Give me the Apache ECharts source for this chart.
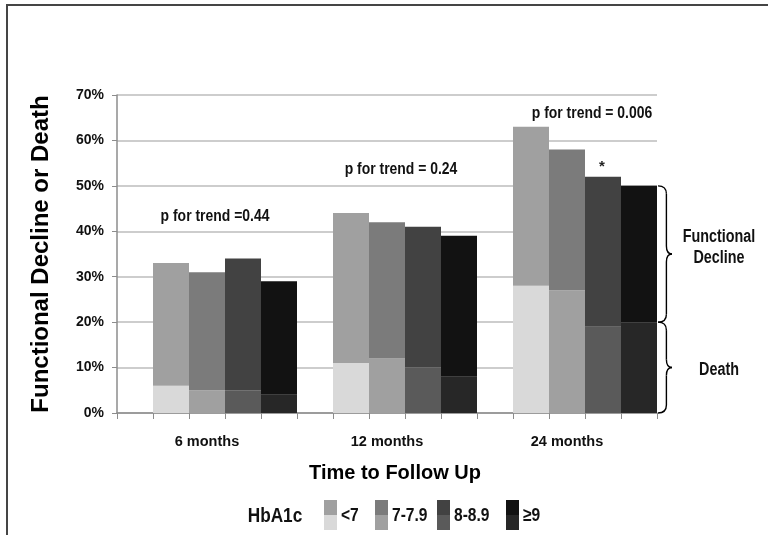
<!DOCTYPE html>
<html><head><meta charset="utf-8">
<script src="https://cdn.jsdelivr.net/npm/echarts@6/dist/echarts.min.js"></script>
<style>html,body{margin:0;padding:0;background:#fff}#c{width:768px;height:535px}</style>
</head><body><div id="c"></div>
<script>
// ---- data ----
const timepoints = ['6 months', '12 months', '24 months'];
const hba1cGroups = ['<7', '7-7.9', '8-8.9', '≥9'];
const deathValues = [
  [6, 5, 5, 4],
  [11, 12, 10, 8],
  [28, 27, 19, 20]
];
const totalValues = [
  [33, 31, 34, 29],
  [44, 42, 41, 39],
  [63, 58, 52, 50]
];
const pTrendLabels = ['p for trend =0.44', 'p for trend = 0.24', 'p for trend = 0.006'];
const yTickValues = [0, 10, 20, 30, 40, 50, 60, 70];

// ---- styles ----
const deathColors = ['#d9d9d9', '#a0a0a0', '#5a5a5a', '#272727'];
const declineColors = ['#a0a0a0', '#7b7b7b', '#424242', '#121212'];
const SANS = '"Liberation Sans", Arial, sans-serif';
const NARROW_SCALE = 0.82;

// build slot-based category axis: gap + 4 bars per timepoint
const slotNames = [], slotLabels = [], deathData = [], declineData = [];
timepoints.forEach((tp, g) => {
  slotNames.push('gap' + g); slotLabels.push(''); deathData.push('-'); declineData.push('-');
  hba1cGroups.forEach((h, i) => {
    slotNames.push(tp + '|' + h);
    slotLabels.push(i === 1 ? tp : '');
    deathData.push({ value: deathValues[g][i], itemStyle: { color: deathColors[i] } });
    declineData.push({ value: totalValues[g][i] - deathValues[g][i], itemStyle: { color: declineColors[i] } });
  });
});

const chart = echarts.init(document.getElementById('c'), null, { renderer: 'canvas' });
const option = {
  animation: false,
  backgroundColor: '#fff',
  grid: { left: 117, right: 111, top: 95, bottom: 122 },
  xAxis: {
    type: 'category',
    data: slotNames,
    boundaryGap: true,
    axisLine: { lineStyle: { color: '#8c8c8c', width: 1.5 } },
    axisTick: { show: true, interval: 0, length: 6, lineStyle: { color: '#8c8c8c' } },
    axisLabel: {
      interval: 0, margin: 21, fontFamily: SANS, fontWeight: 'bold', fontSize: 14.5, color: '#111',
      formatter: (v, idx) => slotLabels[idx]
    },
    name: 'Time to Follow Up',
    nameLocation: 'middle',
    nameGap: 50,
    nameTextStyle: { fontFamily: SANS, fontWeight: 'bold', fontSize: 20, color: '#000', padding: [0, 0, 0, 16] }
  },
  yAxis: {
    type: 'value',
    min: yTickValues[0], max: yTickValues[yTickValues.length - 1], interval: yTickValues[1] - yTickValues[0],
    axisLine: { show: true, lineStyle: { color: '#8c8c8c', width: 1.5 } },
    axisTick: { show: true, length: 5, lineStyle: { color: '#8c8c8c' } },
    axisLabel: { formatter: '{value}%', margin: 13, fontFamily: SANS, fontWeight: 'bold', fontSize: 14, color: '#111' },
    splitLine: { lineStyle: { color: '#bdbdbd', width: 1.5 } },
    name: 'Functional Decline or Death',
    nameLocation: 'middle',
    nameGap: 64,
    nameTextStyle: { fontFamily: SANS, fontWeight: 'bold', fontSize: 24, color: '#000' }
  },
  series: [
    { name: 'Death', type: 'bar', stack: 'a', data: deathData, barCategoryGap: 0, barGap: 0 },
    { name: 'Functional Decline', type: 'bar', stack: 'a', data: declineData, barCategoryGap: 0, barGap: 0 }
  ]
};
chart.setOption(option);

// ---- annotations ----
const py = v => chart.convertToPixel({ yAxisIndex: 0 }, v);
const gridRight = 768 - 111;
const braceStyle = { fill: 'none', stroke: '#000', lineWidth: 1.4 };
function brace(x0, y1, y2, w) {
  const xm = x0 + w * 0.6, ym = (y1 + y2) / 2, r = 8;
  return [
    { type: 'bezierCurve', shape: { x1: x0, y1: y1, cpx1: xm, cpy1: y1, x2: xm, y2: y1 + r }, style: braceStyle },
    { type: 'line', shape: { x1: xm, y1: y1 + r, x2: xm, y2: ym - r }, style: braceStyle },
    { type: 'bezierCurve', shape: { x1: xm, y1: ym - r, cpx1: xm, cpy1: ym, x2: x0 + w, y2: ym }, style: braceStyle },
    { type: 'bezierCurve', shape: { x1: x0 + w, y1: ym, cpx1: xm, cpy1: ym, x2: xm, y2: ym + r }, style: braceStyle },
    { type: 'line', shape: { x1: xm, y1: ym + r, x2: xm, y2: y2 - r }, style: braceStyle },
    { type: 'bezierCurve', shape: { x1: xm, y1: y2 - r, cpx1: xm, cpy1: y2, x2: x0, y2: y2 }, style: braceStyle }
  ];
}
function ntext(x, y, text, size, align) {
  return { type: 'text', x: x, y: y, scaleX: NARROW_SCALE,
    style: { text: text, align: align || 'center', verticalAlign: 'middle', lineHeight: Math.round(size * 1.2),
             font: 'bold ' + size + 'px ' + SANS, fill: '#111' } };
}
const yTop = py(totalValues[2][3]), yMid = py(deathValues[2][3]), yBot = py(0);
let graphics = [
  { type: 'rect', shape: { x: 7, y: 5, width: 800, height: 600 }, style: { fill: 'none', stroke: '#454545', lineWidth: 2 }, silent: true }
];
graphics = graphics.concat(brace(gridRight + 1, yTop, yMid, 14), brace(gridRight + 1, yMid, yBot, 14));
graphics.push(
  ntext(719, 248, 'Functional\nDecline', 17.5),
  ntext(719, 370, 'Death', 17.5),
  ntext(215, 216, pTrendLabels[0], 17),
  ntext(401, 169, pTrendLabels[1], 17),
  ntext(592, 113, pTrendLabels[2], 17),
  { type: 'text', x: 602, y: 167, style: { text: '*', align: 'center', verticalAlign: 'middle', font: 'bold 15px ' + SANS, fill: '#222' } },
  ntext(275, 516, 'HbA1c', 21)
);
const legendX = [324, 375, 437, 506];
hba1cGroups.forEach((h, i) => {
  graphics.push({ type: 'rect', shape: { x: legendX[i], y: 500, width: 13, height: 15 }, style: { fill: declineColors[i] } });
  graphics.push({ type: 'rect', shape: { x: legendX[i], y: 515, width: 13, height: 15 }, style: { fill: deathColors[i] } });
  graphics.push(ntext(legendX[i] + 17, 516, h, 19, 'left'));
});
chart.setOption({ graphic: graphics });
</script>
</body></html>
